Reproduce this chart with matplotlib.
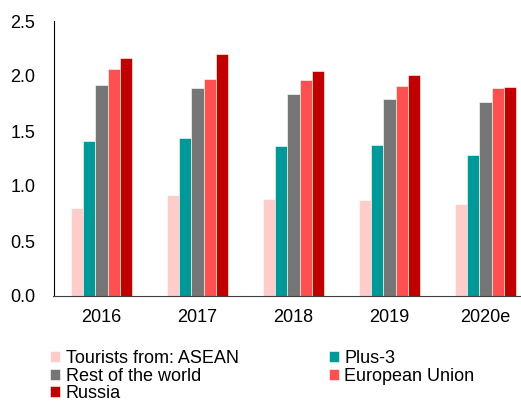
import numpy as np
from matplotlib import pyplot as plt

years = ["2016", "2017", "2018", "2019", "2020e"]
asean = [0.80, 0.92, 0.88, 0.87, 0.84]
plus3 = [1.41, 1.44, 1.36, 1.37, 1.28]
rest_world = [1.92, 1.89, 1.84, 1.79, 1.76]
eu = [2.06, 1.97, 1.96, 1.91, 1.89]
russia = [2.16, 2.20, 2.05, 2.01, 1.90]

series = [
    ("Tourists from: ASEAN", asean, "#FFCCCC"),
    ("Plus-3", plus3, "#009999"),
    ("Rest of the world", rest_world, "#767676"),
    ("European Union", eu, "#FF5050"),
    ("Russia", russia, "#C00000"),
]

plt.rcParams['font.family'] = ['Liberation Sans', 'DejaVu Sans']

fig = plt.figure(figsize=(5.21, 4.03), dpi=100)
ax = fig.add_axes([53.5 / 521, 1 - 296 / 403, 1 - 53.5 / 521, 275 / 403])

x = np.arange(len(years))
width = 0.126
handles = {}
for i, (name, vals, col) in enumerate(series):
    offs = (i - 2) * width
    b = ax.bar(x + offs, vals, width, color=col, edgecolor="white", linewidth=0.4, label=name)
    handles[name] = b

ax.set_xlim(-0.5, 4.37)
ax.set_ylim(0, 2.5)
ax.set_yticks([0.0, 0.5, 1.0, 1.5, 2.0, 2.5])
ax.set_yticklabels(["0.0", "0.5", "1.0", "1.5", "2.0", "2.5"])
ax.set_xticks(x)
ax.set_xticklabels(years)
ax.tick_params(axis="both", length=0, labelsize=13, colors="black")
ax.tick_params(axis="x", pad=9)
ax.tick_params(axis="y", pad=13)
ax.spines["top"].set_visible(False)
ax.spines["right"].set_visible(False)
ax.spines["left"].set_color("black")
ax.spines["bottom"].set_color("#404040")

# column-major order so the legend reads row by row like the original
order = ["Tourists from: ASEAN", "Rest of the world", "Russia", "Plus-3", "European Union"]
fig.legend([handles[n] for n in order], order, ncol=2, loc="upper left",
           bbox_to_anchor=(43 / 521, 1 - 343 / 403), frameon=False,
           fontsize=13, handlelength=0.55, handleheight=0.55, handletextpad=0.3,
           labelspacing=0.02, columnspacing=5.0, borderaxespad=0)

fig.savefig("out.png", dpi=100)
